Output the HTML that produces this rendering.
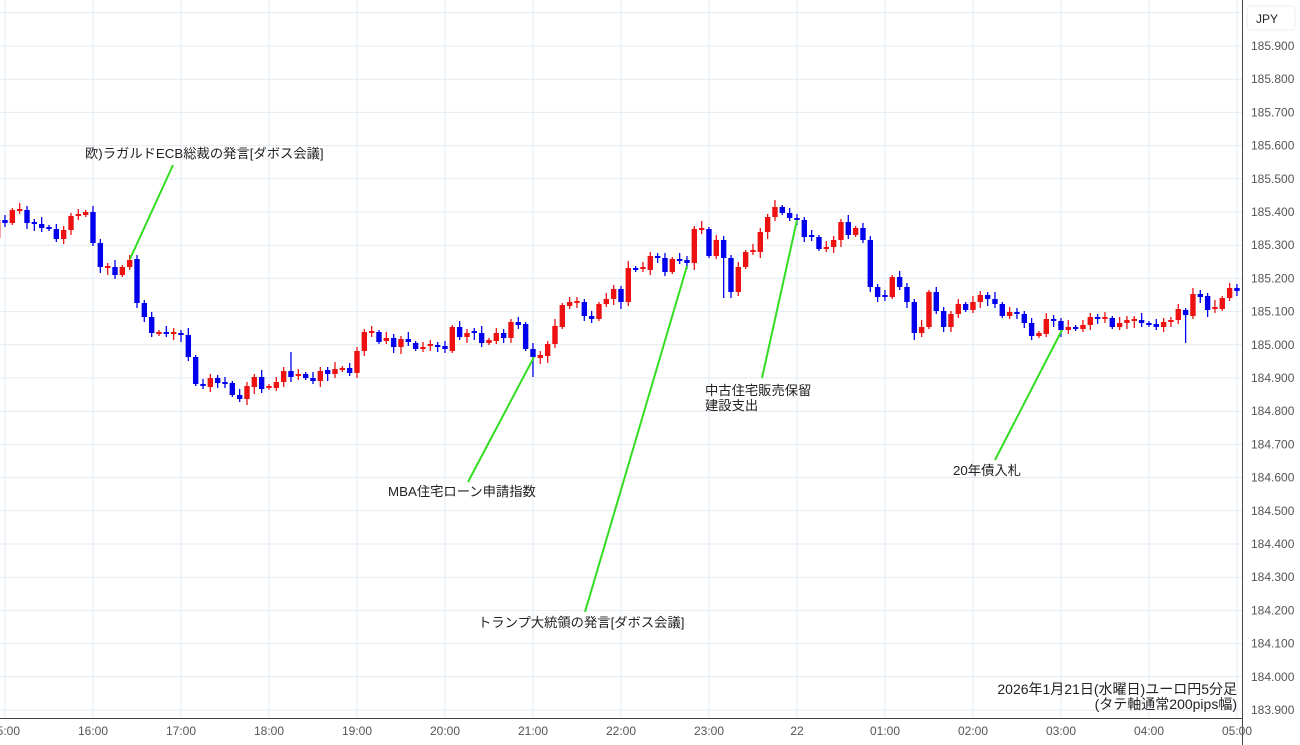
<!DOCTYPE html>
<html><head><meta charset="utf-8">
<style>
html,body{margin:0;padding:0;background:#fff;}
svg{display:block;font-family:"Liberation Sans","Noto Sans CJK JP",sans-serif;}
</style></head>
<body>
<svg id="c" width="1300" height="745" viewBox="0 0 1300 745" xmlns="http://www.w3.org/2000/svg">
<rect width="1300" height="745" fill="#fff"/>
<g id="grid"></g>
<g id="candles"></g>
<g stroke="#33dd22" stroke-width="2">
<line x1="173" y1="165" x2="130" y2="259"/>
<line x1="468" y1="482" x2="534" y2="357"/>
<line x1="585" y1="612" x2="687" y2="266"/>
<line x1="762" y1="378" x2="797" y2="220"/>
<line x1="995" y1="460" x2="1062" y2="330"/>
</g>
<g fill="#222" font-size="13.3">
<text x="85" y="158">欧)ラガルドECB総裁の発言[ダボス会議]</text>
<text x="388" y="496">MBA住宅ローン申請指数</text>
<text x="478" y="627">トランプ大統領の発言[ダボス会議]</text>
<text x="705" y="395">中古住宅販売保留</text>
<text x="705" y="410">建設支出</text>
<text x="953" y="475">20年債入札</text>
</g>
<g fill="#222" font-size="14">
<text x="1237" y="694" text-anchor="end">2026年1月21日(水曜日)ユーロ円5分足</text>
<text x="1237" y="709" text-anchor="end">(タテ軸通常200pips幅)</text>
</g>
<rect x="1243" y="0" width="57" height="745" fill="#fff"/>
<line x1="1242.5" y1="0" x2="1242.5" y2="745" stroke="#444" stroke-width="1"/>
<line x1="0" y1="718.5" x2="1242" y2="718.5" stroke="#444" stroke-width="1"/>
<rect x="1247" y="6" width="48" height="24" rx="4" fill="#fff" stroke="#eee"/>
<text x="1256" y="23" font-size="12" fill="#222">JPY</text>
<g id="ylab" font-size="12" fill="#555"></g>
<g id="xlab" font-size="12" fill="#555"></g>
</svg>
<script>
var NS="http://www.w3.org/2000/svg";
function el(p,t,a,txt){var e=document.createElementNS(NS,t);for(var k in a)e.setAttribute(k,a[k]);if(txt)e.textContent=txt;p.appendChild(e);return e;}
var grid=document.getElementById('grid'),yl=document.getElementById('ylab'),xl=document.getElementById('xlab');
for(var i=0;i<=21;i++){var y=12.8+i*33.2;el(grid,'line',{x1:0,x2:1242,y1:y,y2:y,stroke:'#e3ebf3','stroke-width':1});
 if(i>=1){var p=(186.0-i*0.1).toFixed(3);el(yl,'text',{x:1251,y:y+4},p);}}
var xs=["16:00","17:00","18:00","19:00","20:00","21:00","22:00","23:00","22","01:00","02:00","03:00","04:00","05:00"];
for(var j=-1;j<14;j++){var x=93+j*88;el(grid,'line',{x1:x,x2:x,y1:0,y2:718,stroke:'#e3ebf3','stroke-width':1});
 var lab=j<0?"15:00":xs[j];el(xl,'text',{x:x,y:735,'text-anchor':'middle'},lab);}
var d=[
[220,238,'r'],[220,223,'b'],[210,223,'r'],[209,211,'r'],[210,223,'b'],[222,224,'b'],[224,228,'b'],[227,229,'b'],[229,239,'b'],[230,239,'r'],[216,230,'r'],[214,216,'r'],[212,215,'r'],
[212,243,'b'],[243,267,'b'],[266,268,'r'],[267,275,'b'],[267,275,'r'],[260,267,'r'],[259,303,'b'],[303,317,'b'],[317,333,'b'],[332,334,'r'],[332,334,'b'],[332,334,'r'],[333,335,'b'],[335,357,'b'],[357,384,'b'],[384,386,'b'],[378,387,'r'],[378,383,'b'],[382,384,'b'],[383,395,'b'],[395,399,'b'],[386,399,'r'],[377,387,'r'],[377,389,'b'],[386,388,'r'],[382,388,'r'],[371,382,'r'],[371,377,'b'],[374,376,'r'],[374,378,'b'],[378,381,'b'],[371,381,'r'],[370,374,'b'],[369,374,'r'],[368,370,'r'],[368,373,'b'],[351,373,'r'],[332,351,'r'],[331,333,'r'],[332,342,'b'],[338,341,'r'],[338,347,'b'],[339,347,'r'],[339,342,'b'],[343,349,'b'],
[347,349,'r'],[344,346,'r'],[345,347,'b'],[346,349,'b'],[327,351,'r'],[327,337,'b'],[333,337,'r'],[331,333,'b'],[333,343,'b'],[340,343,'r'],[333,341,'r'],[333,338,'b'],[322,338,'r'],[322,325,'b'],[324,349,'b'],[349,357,'b'],[355,358,'r'],[344,356,'r'],[326,344,'r'],[305,327,'r'],[302,306,'r'],[301,303,'r'],[302,316,'b'],[316,319,'b'],[304,319,'r'],[299,304,'r'],[289,299,'r'],[289,302,'b'],[268,302,'r'],[268,270,'b'],[267,269,'r'],[256,270,'r'],[256,258,'b'],[258,272,'b'],[259,272,'r'],[259,261,'b'],[260,263,'b'],[229,263,'r'],[228,230,'r'],[229,256,'b'],[240,256,'r'],[240,258,'b'],[258,292,'b'],[267,292,'r'],[252,267,'r'],[250,252,'r'],[232,252,'r'],[217,232,'r'],[207,217,'r'],[207,213,'b'],[213,218,'b'],[218,220,'b'],[220,237,'b'],[235,237,'b'],[237,249,'b'],[247,249,'r'],
[240,247,'r'],[222,240,'r'],[222,235,'b'],[228,235,'r'],[228,240,'b'],[240,287,'b'],[287,297,'b'],[295,297,'b'],[277,297,'r'],[277,287,'b'],[287,302,'b'],[302,333,'b'],[327,333,'r'],[292,327,'r'],[292,311,'b'],[311,327,'b'],[314,327,'r'],[304,314,'r'],[304,310,'b'],[302,310,'r'],[295,302,'r'],[295,299,'b'],[299,304,'b'],[304,316,'b'],[312,316,'r'],[312,314,'b'],[314,323,'b'],[323,336,'b'],[333,336,'r'],[319,334,'r'],[319,321,'b'],[321,330,'b'],[327,330,'r'],[327,329,'b'],[325,329,'r'],[317,325,'r'],[317,319,'b'],[317,319,'r'],[318,327,'b'],[323,327,'r'],[320,323,'r'],[319,321,'r'],[320,323,'b'],[323,325,'b'],[324,327,'b'],[322,327,'r'],[320,322,'r'],[309,320,'r'],[310,315,'b'],[294,316,'r'],[294,297,'b'],[296,310,'b'],[307,309,'r'],[298,309,'r'],[288,298,'r'],[288,291,'b']];
var cg=document.getElementById('candles');
var w=[3,5,2,6,4,3,7,2,5,4];
for(var k=0;k<d.length;k++){var idx=k-13;var x=93+idx*7.333;var c=d[k];var col=c[2]=='r'?'#ee1111':'#0000ee';
 var hi=c[0]-w[k%10],lo=c[1]+w[(k*3+1)%10];
 if(idx==60)lo=377; if(idx==86||idx==87)lo=298; if(idx==149)lo=343; if(idx==27)hi=352;
 el(cg,'line',{x1:x,x2:x,y1:hi,y2:lo,stroke:col,'stroke-width':1.3});
 var h=Math.max(2,c[1]-c[0]);el(cg,'rect',{x:x-2.7,y:c[0],width:5.4,height:h,fill:col});}
</script>
</body></html>
